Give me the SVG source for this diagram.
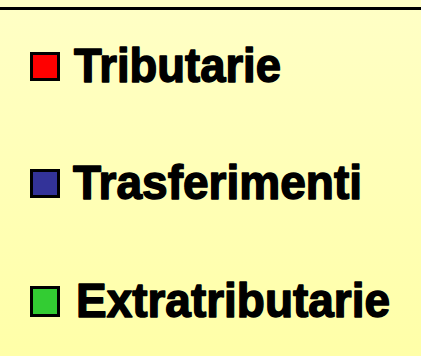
<svg xmlns="http://www.w3.org/2000/svg" width="421" height="356" viewBox="0 0 421 356">
<defs>
<linearGradient id="bg" x1="0" y1="0" x2="0" y2="1">
<stop offset="0" stop-color="#FFFFC6"/>
<stop offset="1" stop-color="#FFFFA8"/>
</linearGradient>
</defs>
<style>
.sw{stroke:#000;stroke-width:3}
.lbl{font-family:"Liberation Sans",Arial,sans-serif;font-weight:bold;font-size:49px;fill:#000;stroke:#000;stroke-width:1.5;stroke-linejoin:round}
</style>
<rect width="421" height="356" fill="url(#bg)"/>
<line x1="0" y1="8.5" x2="421" y2="8.5" stroke="#000" stroke-width="3"/>
<g id="tributarie">
<rect class="sw" x="31.5" y="53.5" width="27" height="26" fill="#FF0000"/>
<text class="lbl" x="74" y="82" textLength="207" lengthAdjust="spacingAndGlyphs">Tributarie</text>
</g>
<g id="trasferimenti">
<rect class="sw" x="31.5" y="170.5" width="27" height="26" fill="#333399"/>
<text class="lbl" x="73" y="199" textLength="289" lengthAdjust="spacingAndGlyphs">Trasferimenti</text>
</g>
<g id="extratributarie">
<rect class="sw" x="31.5" y="287.5" width="27" height="28" fill="#33CC33"/>
<text class="lbl" x="76" y="317" textLength="314" lengthAdjust="spacingAndGlyphs">Extratributarie</text>
</g>
</svg>
